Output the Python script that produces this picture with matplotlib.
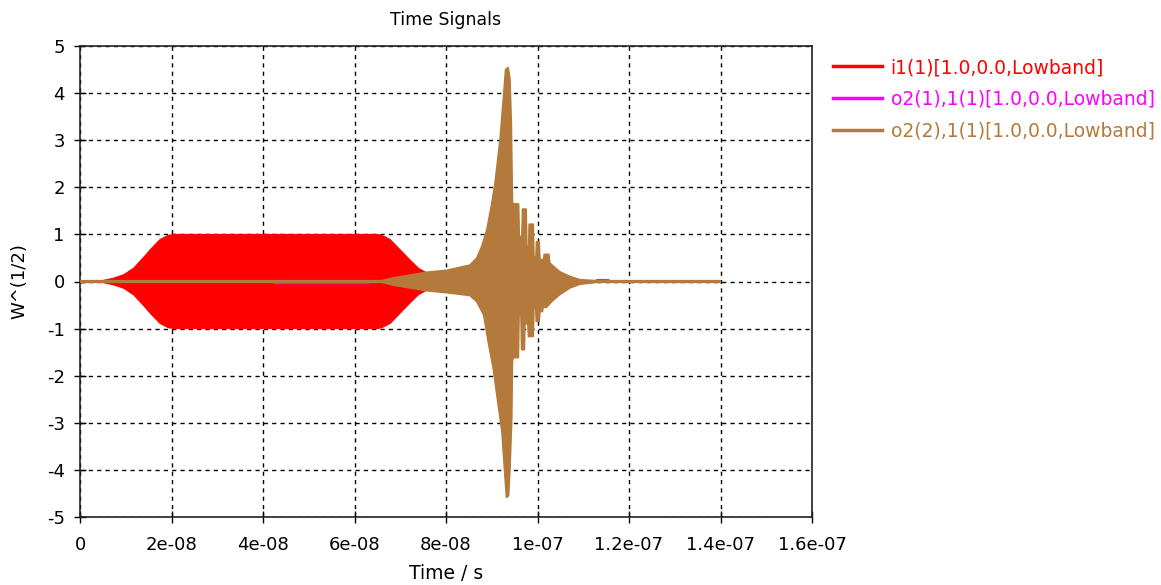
import numpy as np
import matplotlib
matplotlib.use("Agg")
import matplotlib.pyplot as plt
from matplotlib.ticker import FixedLocator

# ---- data (times in units of 1e-8 s, amplitudes in W^(1/2)) ----
red_t = [0, 0.45, 0.73, 0.95, 1.17, 1.38, 1.57, 1.75, 1.93, 2.05,
         6.5, 6.6, 6.78, 6.99, 7.21, 7.4, 7.58, 7.75, 7.9, 8.1]
red_amp = [0, 0.01, 0.07, 0.14, 0.28, 0.50, 0.71, 0.89, 0.98, 1.0,
           1.0, 0.98, 0.89, 0.68, 0.46, 0.28, 0.18, 0.10, 0.05, 0.0]

brown_up_t = [0, 6.6, 6.85, 7.58, 8.01, 8.52, 8.67, 8.78, 8.89, 9.0, 9.07,
              9.18, 9.25, 9.3, 9.36, 9.4, 9.43, 9.455, 9.47, 9.59, 9.605,
              9.655, 9.67, 9.755, 9.77, 9.805, 9.815, 9.91, 9.925, 9.965, 9.975,
              10.04, 10.055, 10.13, 10.145, 10.25, 10.27, 10.31, 10.49, 10.71,
              10.93, 11.3, 14.0]
brown_up = [0.02, 0.02, 0.08, 0.2, 0.24, 0.35, 0.5, 0.75, 1.1, 1.67, 2.1,
            3.03, 3.88, 4.5, 4.55, 4.31, 3.4, 1.7, 1.65, 1.65, 0.96,
            0.96, 1.54, 1.54, 0.75, 0.75, 1.22, 1.22, 0.53, 0.53, 0.85,
            0.85, 0.47, 0.47, 0.58, 0.58, 0.4, 0.36, 0.21, 0.11,
            0.04, 0.02, 0.02]

brown_lo_t = [0, 6.6, 6.85, 7.58, 8.01, 8.52, 8.67, 8.82, 8.92, 9.03, 9.1,
              9.22, 9.29, 9.32, 9.37, 9.4, 9.44, 9.455, 9.47, 9.585, 9.6,
              9.635, 9.65, 9.715, 9.73, 9.785, 9.8, 9.91, 9.925, 9.96, 9.97,
              10.04, 10.055, 10.11, 10.125, 10.2, 10.31, 10.49, 10.71, 10.93,
              11.3, 14.0]
brown_lo = [-0.02, -0.02, -0.08, -0.2, -0.24, -0.3, -0.43, -0.71, -1.28, -1.85, -2.35,
            -3.2, -4.2, -4.59, -4.55, -4.0, -2.92, -1.7, -1.62, -1.62, -0.71,
            -0.71, -1.45, -1.45, -0.9, -0.9, -1.17, -1.17, -0.57, -0.57, -0.85,
            -0.85, -0.64, -0.64, -0.55, -0.55, -0.43, -0.28, -0.14, -0.06,
            -0.02, -0.02]

mag_up_t = [0, 11.25, 11.3, 11.55, 11.6, 14.0]
mag_up = [0, 0, 0.04, 0.04, 0, 0]
mag_lo_t = [0, 4.2, 4.25, 6.3, 6.35, 14.0]
mag_lo = [0, 0, -0.045, -0.045, 0, 0]

labels = ["i1(1)[1.0,0.0,Lowband]",
          "o2(1),1(1)[1.0,0.0,Lowband]",
          "o2(2),1(1)[1.0,0.0,Lowband]"]
colors = ["#ff0000", "#ff00ff", "#b47a3c"]

x_ticks = [0, 2e-08, 4e-08, 6e-08, 8e-08, 1e-07, 1.2e-07, 1.4e-07, 1.6e-07]
x_ticklabels = ["0", "2e-08", "4e-08", "6e-08", "8e-08", "1e-07", "1.2e-07", "1.4e-07", "1.6e-07"]
y_ticks = [-5, -4, -3, -2, -1, 0, 1, 2, 3, 4, 5]

SCALE = 1e-8

def envelope_polygon(t_up, up, t_lo, lo):
    xs = np.concatenate([np.asarray(t_up), np.asarray(t_lo)[::-1]]) * SCALE
    ys = np.concatenate([np.asarray(up), np.asarray(lo)[::-1]])
    return xs, ys

plt.rcParams['font.family'] = ['DejaVu Sans']
fig = plt.figure(figsize=(11.61, 5.85), dpi=100)
ax = fig.add_axes([80/1161, 68/585, (812-80)/1161, (517-46)/585])

# red
rx, ry = envelope_polygon(red_t, red_amp, red_t, [-a for a in red_amp])
ax.fill(rx, ry, color=colors[0], lw=0.8, zorder=2)
# magenta
mx, my = envelope_polygon(mag_up_t, mag_up, mag_lo_t, mag_lo)
ax.fill(mx, my, facecolor=colors[1], edgecolor=colors[1], lw=1.0, zorder=3)
# brown
bx, by = envelope_polygon(brown_up_t, brown_up, brown_lo_t, brown_lo)
ax.fill(bx, by, facecolor=colors[2], edgecolor=colors[2], lw=1.0, zorder=4)

handles = []
for lab, c in zip(labels, colors):
    h, = ax.plot([], [], color=c, lw=2.5, label=lab)
    handles.append(h)

ax.set_xlim(0, 1.6e-07)
ax.set_ylim(-5, 5)
ax.xaxis.set_major_locator(FixedLocator(x_ticks))
ax.set_xticklabels(x_ticklabels)
ax.yaxis.set_major_locator(FixedLocator(y_ticks))
ax.set_yticklabels([str(v) for v in y_ticks])

ax.grid(True, color="black", linestyle=(0, (3, 3)), linewidth=1.0, zorder=1)
ax.set_axisbelow(True)
for sp in ax.spines.values():
    sp.set_linewidth(1.2)
    sp.set_color("#222222")
ax.tick_params(direction="inout", length=8, width=1.0, labelsize=13, colors="black")
ax.tick_params(axis="x", pad=10)
ax.tick_params(axis="y", pad=7)

ax.set_title("Time Signals", fontsize=12.5, pad=15)
ax.set_xlabel("Time / s", fontsize=13.5, labelpad=7)
ax.set_ylabel("W^(1/2)", fontsize=13, labelpad=13)

fig.legend(handles=handles, loc="upper left", bbox_to_anchor=(833/1161, 1 - 58/585),
           frameon=False, fontsize=13.5, handlelength=2.6, handletextpad=0.48,
           labelspacing=0.68, borderpad=0, borderaxespad=0, labelcolor="linecolor")

fig.savefig("out.png", dpi=100)
